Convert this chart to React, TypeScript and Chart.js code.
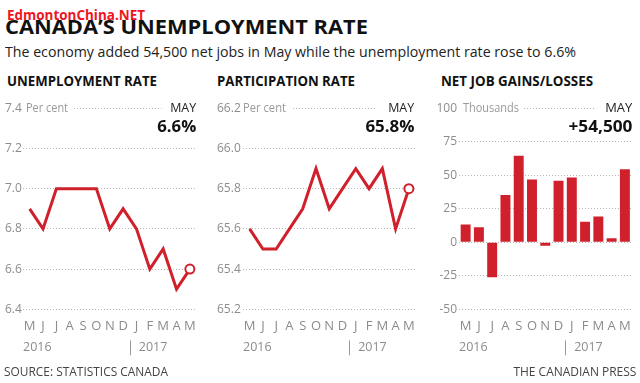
import React, { useEffect, useLayoutEffect, useRef } from 'react';
import { Chart, registerables } from 'chart.js';

Chart.register(...registerables);

// ---------- data ----------
const months = ['M', 'J', 'J', 'A', 'S', 'O', 'N', 'D', 'J', 'F', 'M', 'A', 'M'];
const yearLabels = ['2016', '2017'];
const yearBreakIndex = 8; // first month of 2017
const unemploymentRate = [6.9, 6.8, 7.0, 7.0, 7.0, 7.0, 6.8, 6.9, 6.8, 6.6, 6.7, 6.5, 6.6];
const participationRate = [65.6, 65.5, 65.5, 65.6, 65.7, 65.9, 65.7, 65.8, 65.9, 65.8, 65.9, 65.6, 65.8];
const netJobs = [13.3, 11.3, -26, 35.3, 64.5, 46.8, -2.5, 46, 48.3, 15.3, 19.3, 3, 54.5];

// ---------- style ----------
const FONT = "'Open Sans', 'DejaVu Sans', sans-serif";
const RED = '#d0202b';
const GRID = '#b5b5b5';
const TICK = '#8c8c8c';

Chart.defaults.font.family = FONT;

const decoPlugin = {
  id: 'deco',
  beforeDatasetsDraw(chart: any, _args: any, opts: any) {
    const { ctx, chartArea, scales } = chart;
    const y = Math.round(scales.y.getPixelForValue(opts.max)) + 0.5;
    ctx.save();
    ctx.strokeStyle = GRID;
    ctx.lineWidth = 1;
    ctx.setLineDash([1, 2]);
    ctx.beginPath();
    ctx.moveTo(chartArea.left + opts.lineFrom, y);
    ctx.lineTo(chartArea.right - opts.lineTo, y);
    ctx.stroke();
    ctx.restore();
  },
  afterDraw(chart: any, _args: any, opts: any) {
    const { ctx, chartArea, scales } = chart;
    const y = chartArea.bottom + 38;
    ctx.save();
    ctx.font = `12.5px ${FONT}`;
    ctx.fillStyle = TICK;
    ctx.textBaseline = 'middle';
    ctx.textAlign = 'left';
    ctx.fillText(opts.years[0], chartArea.left, y);
    const mid = (scales.x.getPixelForValue(opts.breakIndex - 1) + scales.x.getPixelForValue(opts.breakIndex)) / 2;
    ctx.strokeStyle = '#9a9a9a';
    ctx.lineWidth = 1;
    ctx.beginPath();
    ctx.moveTo(Math.round(mid) + 0.5, y - 7);
    ctx.lineTo(Math.round(mid) + 0.5, y + 8);
    ctx.stroke();
    ctx.fillText(opts.years[1], mid + 9, y);
    ctx.restore();
  },
};

type PanelProps = {
  kind: 'line' | 'bar';
  values: number[];
  left: number;
  width: number;
  yMin: number;
  yMax: number;
  yStep: number;
  decimals: number;
  yAxisWidth: number;
  padLeft: number;
  crossAlign: 'near' | 'far';
  lineFrom: number;
  lineTo: number;
};

const PANEL_TOP = 95;
const PANEL_H = 270;

function ChartPanel(p: PanelProps) {
  const ref = useRef<HTMLCanvasElement>(null);
  useEffect(() => {
    if (!ref.current) return;
    const dataset: any =
      p.kind === 'line'
        ? {
            data: p.values,
            borderColor: RED,
            borderWidth: 3,
            tension: 0,
            fill: false,
            borderJoinStyle: 'miter',
            borderCapStyle: 'butt',
            pointRadius: p.values.map((_, i) => (i === p.values.length - 1 ? 4.5 : 0)),
            pointBackgroundColor: '#fff',
            pointBorderColor: RED,
            pointBorderWidth: 2,
            pointHoverRadius: 0,
          }
        : {
            data: p.values,
            backgroundColor: RED,
            borderWidth: 0,
            barPercentage: 0.75,
            categoryPercentage: 1,
          };
    const chart = new Chart(ref.current, {
      type: p.kind,
      data: { labels: months, datasets: [dataset] },
      plugins: [decoPlugin as any],
      options: {
        responsive: false,
        animation: false,
        events: [],
        layout: { padding: { left: p.padLeft, right: 7, top: 13.3, bottom: 25.7 } },
        plugins: {
          legend: { display: false },
          tooltip: { enabled: false },
          deco: { max: p.yMax, lineFrom: p.lineFrom, lineTo: p.lineTo, years: yearLabels, breakIndex: yearBreakIndex },
        } as any,
        scales: {
          x: {
            type: 'category',
            offset: true,
            grid: { display: false, drawTicks: false },
            border: { display: false },
            ticks: { color: TICK, font: { size: 13 }, padding: 9, autoSkip: false, maxRotation: 0 },
            afterFit: (s: any) => {
              s.height = 30;
            },
          },
          y: {
            min: p.yMin,
            max: p.yMax,
            grid: {
              drawTicks: false,
              lineWidth: 1,
              color: (c: any) =>
                c.tick && Math.abs(c.tick.value - p.yMax) < 1e-6 ? 'rgba(0,0,0,0)' : GRID,
            },
            border: { display: false, dash: [1, 2] },
            ticks: {
              stepSize: p.yStep,
              color: TICK,
              font: { size: 12 },
              crossAlign: p.crossAlign,
              padding: 2,
              callback: (v: any) => Number(v).toFixed(p.decimals),
            },
            afterFit: (s: any) => {
              s.width = p.yAxisWidth;
            },
          },
        },
      } as any,
    });
    return () => chart.destroy();
  }, []);
  return (
    <canvas
      ref={ref}
      width={p.width}
      height={PANEL_H}
      style={{ position: 'absolute', left: p.left, top: PANEL_TOP, width: p.width, height: PANEL_H }}
    />
  );
}

type TxtProps = {
  x: number;
  base: number;
  size: number;
  w?: number;
  weight?: number;
  color?: string;
  right?: boolean;
  children: React.ReactNode;
};

function Txt({ x, base, size, w, weight = 400, color = '#222', right = false, children }: TxtProps) {
  const ref = useRef<HTMLSpanElement>(null);
  useLayoutEffect(() => {
    const el = ref.current;
    if (!el || !w) return;
    el.style.transform = 'none';
    const a = el.getBoundingClientRect().width;
    if (a > 0) el.style.transform = `scaleX(${w / a})`;
  }, [w, children]);
  const style: React.CSSProperties = {
    position: 'absolute',
    top: base - 0.988 * size,
    fontSize: size,
    lineHeight: `${size * 1.2}px`,
    fontWeight: weight,
    color,
    whiteSpace: 'nowrap',
    fontFamily: FONT,
    transformOrigin: right ? 'right center' : 'left center',
  };
  if (right) style.right = 640 - x;
  else style.left = x;
  return (
    <span ref={ref} style={style}>
      {children}
    </span>
  );
}

export default function App() {
  return (
    <div
      style={{
        position: 'absolute',
        left: 0,
        top: 0,
        width: 640,
        height: 383,
        background: '#fff',
        overflow: 'hidden',
        fontFamily: FONT,
      }}
    >
      <ChartPanel
        kind="line"
        values={unemploymentRate}
        left={0}
        width={205}
        yMin={6.4}
        yMax={7.4}
        yStep={0.2}
        decimals={1}
        yAxisWidth={18}
        padLeft={5}
        crossAlign="far"
        lineFrom={51}
        lineTo={35}
      />
      <ChartPanel
        kind="line"
        values={participationRate}
        left={212}
        width={212}
        yMin={65.2}
        yMax={66.2}
        yStep={0.2}
        decimals={1}
        yAxisWidth={26}
        padLeft={5}
        crossAlign="far"
        lineFrom={50}
        lineTo={40}
      />
      <ChartPanel
        kind="bar"
        values={netJobs}
        left={424}
        width={216}
        yMin={-50}
        yMax={100}
        yStep={25}
        decimals={0}
        yAxisWidth={35}
        padLeft={0}
        crossAlign="near"
        lineFrom={65}
        lineTo={36}
      />

      <Txt x={5} base={35} size={19} w={363} weight={700} color="#111">
        CANADA’S UNEMPLOYMENT RATE
      </Txt>
      <Txt x={7} base={19.5} size={15} w={138} weight={700} color="#f0141e">
        EdmontonChina.NET
      </Txt>
      <Txt x={5} base={57.3} size={15} w={571} color="#222">
        The economy added 54,500 net jobs in May while the unemployment rate rose to 6.6%
      </Txt>

      <Txt x={7} base={86.7} size={14} w={150} weight={700} color="#111">
        UNEMPLOYMENT RATE
      </Txt>
      <Txt x={217} base={86.7} size={14} w={138} weight={700} color="#111">
        PARTICIPATION RATE
      </Txt>
      <Txt x={441} base={86.7} size={14} w={152} weight={700} color="#111">
        NET JOB GAINS/LOSSES
      </Txt>

      <Txt x={26} base={112.8} size={12.5} w={42} color="#999">
        Per cent
      </Txt>
      <Txt x={243} base={112.8} size={12.5} w={43} color="#999">
        Per cent
      </Txt>
      <Txt x={463} base={112.8} size={12.5} w={56} color="#999">
        Thousands
      </Txt>

      <Txt x={196} base={113} size={13} w={26} right color="#222">
        MAY
      </Txt>
      <Txt x={414} base={113} size={13} w={26} right color="#222">
        MAY
      </Txt>
      <Txt x={632} base={113} size={13} w={27} right color="#222">
        MAY
      </Txt>

      <Txt x={196} base={133} size={16} w={39} right weight={700} color="#111">
        6.6%
      </Txt>
      <Txt x={414} base={133} size={16} w={49} right weight={700} color="#111">
        65.8%
      </Txt>
      <Txt x={632} base={133} size={16} w={64} right weight={700} color="#111">
        +54,500
      </Txt>

      <Txt x={4} base={376} size={12.5} w={164} color="#444">
        SOURCE: STATISTICS CANADA
      </Txt>
      <Txt x={636} base={376} size={12.5} w={123} right color="#444">
        THE CANADIAN PRESS
      </Txt>
    </div>
  );
}
